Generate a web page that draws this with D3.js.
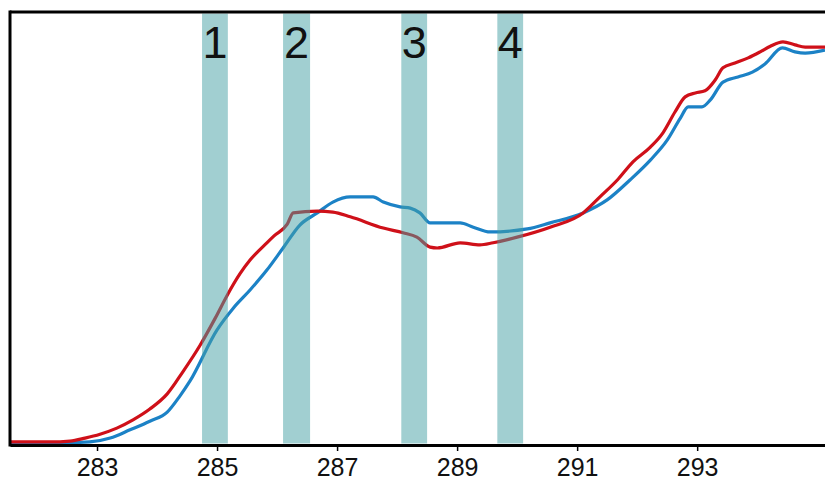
<!DOCTYPE html>
<html>
<head>
<meta charset="utf-8">
<script src="https://cdn.jsdelivr.net/npm/d3@7"></script>
<style>
  html, body { margin: 0; padding: 0; background: #fff; }
  svg { display: block; font-family: "Liberation Sans", Arial, sans-serif; }
</style>
</head>
<body>
<svg id="chart" width="825" height="481"></svg>
<script>
// Photon energy (eV) and normalised intensity for the two spectra
const blueEnergy = [281.55, 282.38, 282.88, 283.22, 283.55, 283.88, 284.17, 284.38, 284.55, 285.0,
  285.27, 285.55, 285.83, 286.1, 286.38, 286.67, 286.93, 287.22, 287.6, 287.77,
  288.05, 288.22, 288.38, 288.55, 289.05, 289.27, 289.55, 290.17, 290.55, 291.1,
  291.5, 291.88, 292.22, 292.5, 292.72, 292.85, 293.08, 293.22, 293.43, 293.68,
  293.92, 294.13, 294.42, 294.63, 294.8, 295.13];
const blueIntensity = [0.005, 0.005, 0.007, 0.016, 0.035, 0.055, 0.076, 0.113, 0.148, 0.266,
  0.316, 0.358, 0.404, 0.455, 0.508, 0.536, 0.561, 0.573, 0.573, 0.561,
  0.550, 0.547, 0.536, 0.513, 0.513, 0.503, 0.492, 0.499, 0.513, 0.536,
  0.566, 0.612, 0.658, 0.704, 0.755, 0.781, 0.781, 0.797, 0.838, 0.850,
  0.861, 0.880, 0.917, 0.908, 0.905, 0.912];

const redEnergy = [281.55, 282.22, 282.55, 282.8, 283.05, 283.33, 283.6, 283.88, 284.17, 284.43,
  284.72, 284.97, 285.17, 285.38, 285.55, 285.83, 285.95, 286.17, 286.27, 286.67, 286.93,
  287.22, 287.77, 288.1, 288.33, 288.55, 288.67, 289.05, 289.38, 289.6, 290.0,
  290.55, 291.1, 291.38, 291.67, 291.93, 292.22, 292.43, 292.63, 292.8, 292.97,
  293.13, 293.3, 293.43, 293.63, 293.85, 294.05, 294.22, 294.43, 294.63, 294.8, 295.13];
const redIntensity = [0.007, 0.007, 0.009, 0.016, 0.025, 0.039, 0.058, 0.083, 0.118, 0.169,
  0.231, 0.293, 0.346, 0.395, 0.427, 0.467, 0.483, 0.510, 0.536, 0.540, 0.538,
  0.527, 0.501, 0.490, 0.480, 0.457, 0.455, 0.467, 0.462, 0.467, 0.480,
  0.503, 0.536, 0.573, 0.612, 0.654, 0.688, 0.721, 0.769, 0.804, 0.813,
  0.818, 0.843, 0.871, 0.882, 0.894, 0.908, 0.921, 0.931, 0.924, 0.919, 0.919];

// Highlighted energy windows and their labels
const bandStart = [284.75, 286.1, 288.07, 289.67];
const bandEnd = [285.18, 286.55, 288.5, 290.1];
const bandLabels = ["1", "2", "3", "4"];

const xTicks = [283, 285, 287, 289, 291, 293];

const svg = d3.select("#chart");
const plotLeft = 10, plotRight = 825, plotTop = 12, plotBottom = 445;

const x = d3.scaleLinear().domain([281.55, 295.13]).range([plotLeft, plotRight]);
const y = d3.scaleLinear().domain([0, 1]).range([plotBottom, plotTop]);

const line = d3.line()
  .x(d => x(d[0]))
  .y(d => y(d[1]))
  .curve(d3.curveMonotoneX);

const blue = d3.zip(blueEnergy, blueIntensity);
const red = d3.zip(redEnergy, redIntensity);

svg.append("path")
  .datum(blue)
  .attr("d", line)
  .attr("fill", "none")
  .attr("stroke", "#1c82c6")
  .attr("stroke-width", 3.2)
  .attr("stroke-linejoin", "round");

svg.append("path")
  .datum(red)
  .attr("d", line)
  .attr("fill", "none")
  .attr("stroke", "#cf1019")
  .attr("stroke-width", 3.2)
  .attr("stroke-linejoin", "round");

// translucent bands over the spectra
svg.append("g")
  .selectAll("rect")
  .data(bandStart)
  .join("rect")
  .attr("x", (d, i) => x(d))
  .attr("width", (d, i) => x(bandEnd[i]) - x(d))
  .attr("y", plotTop + 1.5)
  .attr("height", plotBottom - plotTop - 3)
  .attr("fill", "#449fa3")
  .attr("fill-opacity", 0.5);

svg.append("g")
  .selectAll("text")
  .data(bandLabels)
  .join("text")
  .attr("x", (d, i) => (x(bandStart[i]) + x(bandEnd[i])) / 2)
  .attr("y", 58)
  .attr("text-anchor", "middle")
  .attr("font-size", 45)
  .attr("fill", "#111")
  .text(d => d);

// frame: top and left edges
svg.append("line")
  .attr("x1", plotLeft).attr("x2", plotRight)
  .attr("y1", plotTop).attr("y2", plotTop)
  .attr("stroke", "#000").attr("stroke-width", 3);
svg.append("line")
  .attr("x1", plotLeft).attr("x2", plotLeft)
  .attr("y1", plotTop - 1.5).attr("y2", plotBottom + 1.5)
  .attr("stroke", "#000").attr("stroke-width", 3);

const xAxis = d3.axisBottom(x)
  .tickValues(xTicks)
  .tickFormat(d3.format("d"))
  .tickSize(6)
  .tickSizeOuter(0)
  .tickPadding(7);

const gx = svg.append("g")
  .attr("transform", `translate(0,${plotBottom})`)
  .call(xAxis);
gx.select(".domain").attr("stroke", "#000").attr("stroke-width", 3);
gx.selectAll(".tick line").attr("stroke", "#000").attr("stroke-width", 1.5);
gx.selectAll(".tick text")
  .attr("font-size", 25)
  .attr("font-family", "Liberation Sans, Arial, sans-serif")
  .attr("fill", "#111");
</script>
</body>
</html>
